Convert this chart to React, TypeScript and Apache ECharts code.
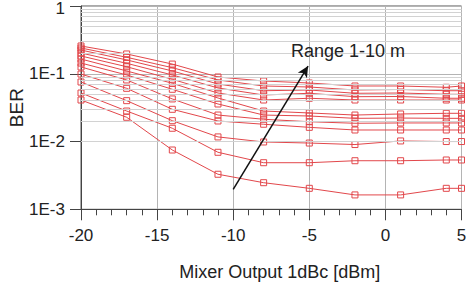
import React, { useEffect, useRef } from "react";
import * as echarts from "echarts";

// Mixer output (dBm) at which BER was measured
const mixerOutput = [-20, -17, -14, -11, -8, -5, -2, 1, 4, 5];

// BER curves, bottom (shortest range) to top
const berCurve1 = [0.041, 0.0228, 0.0075, 0.00329, 0.00247, 0.00204, 0.00163, 0.00163, 0.00204, 0.00204];
const berCurve2 = [0.052, 0.0282, 0.0157, 0.00694, 0.00487, 0.00487, 0.00521, 0.00521, 0.00534, 0.00534];
const berCurve3 = [0.0756, 0.0401, 0.0203, 0.0117, 0.00985, 0.0095, 0.00903, 0.0102, 0.01, 0.01];
const berCurve4 = [0.099, 0.061, 0.0299, 0.0201, 0.018, 0.0162, 0.0148, 0.0148, 0.0148, 0.0148];
const berCurve5 = [0.126, 0.081, 0.0425, 0.0246, 0.0213, 0.0196, 0.0186, 0.0188, 0.0188, 0.0188];
const berCurve6 = [0.144, 0.096, 0.059, 0.0358, 0.0246, 0.0238, 0.022, 0.0222, 0.022, 0.022];
const berCurve7 = [0.165, 0.11, 0.0724, 0.0439, 0.0282, 0.0264, 0.0246, 0.0255, 0.0261, 0.0261];
const berCurve8 = [0.183, 0.127, 0.0829, 0.052, 0.041, 0.0435, 0.041, 0.041, 0.041, 0.041];
const berCurve9 = [0.2025, 0.1427, 0.096, 0.0617, 0.0486, 0.0515, 0.0459, 0.0462, 0.0435, 0.0435];
const berCurve10 = [0.224, 0.16, 0.11, 0.0706, 0.0562, 0.0576, 0.0515, 0.052, 0.0498, 0.0498];
const berCurve11 = [0.24, 0.175, 0.123, 0.081, 0.066, 0.0638, 0.0576, 0.0586, 0.0562, 0.0562];
const berCurve12 = [0.257, 0.196, 0.139, 0.0896, 0.0782, 0.0731, 0.066, 0.066, 0.0632, 0.066];

const berCurves = [
  berCurve1, berCurve2, berCurve3, berCurve4, berCurve5, berCurve6,
  berCurve7, berCurve8, berCurve9, berCurve10, berCurve11, berCurve12,
];

// log-axis minor grid lines (2..9 in each decade)
const minorGridValues = [
  0.002, 0.003, 0.004, 0.005, 0.006, 0.007, 0.008, 0.009,
  0.02, 0.03, 0.04, 0.05, 0.06, 0.07, 0.08, 0.09,
  0.2, 0.3, 0.4, 0.5, 0.6, 0.7, 0.8, 0.9,
];

// annotation arrow in data coordinates: [x, BER]
const arrowStart = [-10, 0.00197];
const arrowEnd = [-5.08, 0.13];
const annotationText = "Range 1-10 m";

const FONT = "'Liberation Sans', Arial, sans-serif";
const RED = "#e2474b";
const TEXT = "#222";

export default function App() {
  const ref = useRef<HTMLDivElement>(null);

  useEffect(() => {
    if (!ref.current) return;
    const chart = echarts.init(ref.current, undefined, { renderer: "svg" });

    const lineSeries = berCurves.map((curve, i) => ({
      name: `curve ${i + 1}`,
      type: "line",
      data: mixerOutput.map((x, j) => [x, curve[j]]),
      symbol: "rect",
      symbolSize: 6,
      showSymbol: true,
      lineStyle: { color: RED, width: 1 },
      itemStyle: { color: "rgba(255,255,255,0)", borderColor: RED, borderWidth: 1 },
      z: 3,
    }));

    chart.setOption({
      animation: false,
      backgroundColor: "#fff",
      textStyle: { fontFamily: FONT },
      grid: {
        left: 81,
        right: 4.5,
        top: 6,
        bottom: 77.7,
        containLabel: false,
        outerBoundsMode: "none",
        show: true,
        borderColor: "#555",
        borderWidth: 1,
        backgroundColor: "transparent",
      },
      xAxis: {
        type: "value",
        min: -20,
        max: 5,
        interval: 5,
        axisLine: { show: true, onZero: false, lineStyle: { color: "#444", width: 1 } },
        axisTick: { show: true, inside: false, length: 11, lineStyle: { color: "#444" } },
        minorTick: { show: true, splitNumber: 5, length: 6, lineStyle: { color: "#444" } },
        splitLine: { show: true, lineStyle: { color: "#b4b4b4", width: 1 } },
        axisLabel: { fontSize: 17, color: TEXT, margin: 18, fontFamily: FONT },
        name: "Mixer Output 1dBc [dBm]",
        nameLocation: "middle",
        nameGap: 54,
        nameMoveOverlap: false,
        nameTextStyle: { fontSize: 18, color: TEXT, fontFamily: FONT, padding: [0, 0, 0, 17] },
      },
      yAxis: {
        type: "log",
        logBase: 10,
        min: 0.001,
        max: 1,
        axisLine: { show: true, onZero: false, lineStyle: { color: "#444", width: 1 } },
        axisTick: { show: true, inside: false, length: 11, lineStyle: { color: "#444" } },
        splitLine: { show: true, lineStyle: { color: "#b4b4b4", width: 1 } },
        axisLabel: {
          fontSize: 17,
          lineHeight: 14,
          color: TEXT,
          margin: 16,
          fontFamily: FONT,
          formatter: (v: number) =>
            Math.abs(v - 1) < 1e-9 ? "{top|1}" : "1E" + Math.round(Math.log10(v)),
          rich: {
            top: { fontSize: 17, lineHeight: 14, color: TEXT, fontFamily: FONT, padding: [4, 0, 0, 0] },
          },
        },
        name: "BER",
        nameLocation: "middle",
        nameGap: 55,
        nameMoveOverlap: false,
        nameRotate: 90,
        nameTextStyle: { fontSize: 19, color: TEXT, fontFamily: FONT },
      },
      series: [
        {
          name: "minor grid",
          type: "line",
          data: [],
          z: 1,
          silent: true,
          markLine: {
            silent: true,
            symbol: ["none", "none"],
            label: { show: false },
            lineStyle: { color: "#d2d2d2", width: 1, type: "solid" },
            emphasis: { disabled: true },
            data: minorGridValues.map((v) => ({ yAxis: v })),
          },
        },
        ...lineSeries,
        {
          name: "arrow",
          type: "line",
          data: [],
          z: 5,
          silent: true,
          markLine: {
            silent: true,
            symbol: ["none", "arrow"],
            symbolSize: [8, 11],
            label: { show: false },
            lineStyle: { color: "#111", width: 1.5, type: "solid" },
            emphasis: { disabled: true },
            data: [[{ coord: arrowStart }, { coord: arrowEnd }]],
          },
        },
      ],
      graphic: [
        {
          type: "text",
          left: 291,
          top: 42,
          style: { text: annotationText, fontSize: 18, fill: TEXT, fontFamily: FONT },
          z: 10,
        },
      ],
    });

    return () => chart.dispose();
  }, []);

  return (
    <div
      ref={ref}
      style={{ position: "fixed", left: 0, top: 0, width: 466, height: 287, background: "#fff" }}
    />
  );
}
